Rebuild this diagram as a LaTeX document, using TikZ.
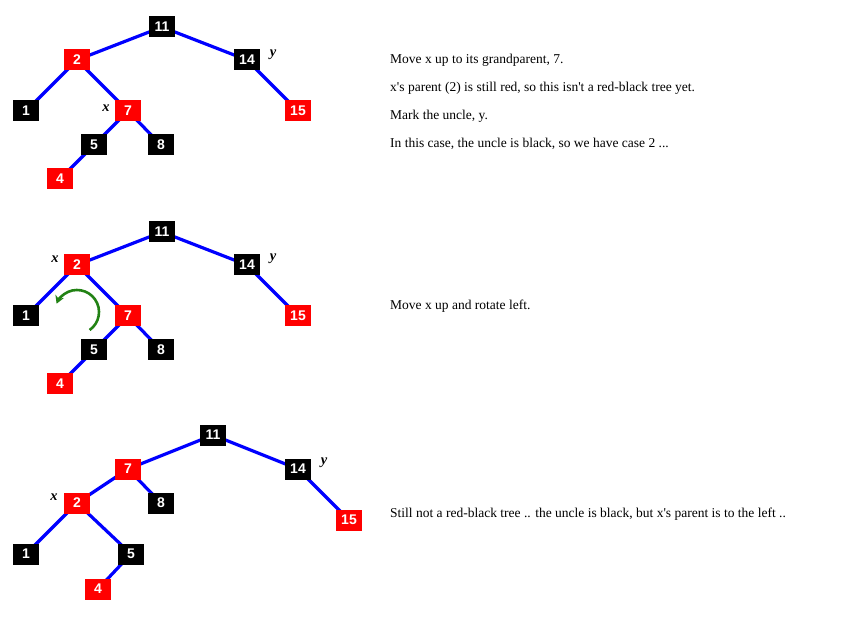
\documentclass[tikz,border=0pt]{standalone}
\usepackage{fontspec}
\setmainfont{Liberation Serif}
\newfontfamily\notefont{Liberation Serif}
\newfontfamily\nodefont{Liberation Sans}
\usetikzlibrary{arrows.meta}
\definecolor{arrowgreen}{RGB}{34,130,20}
\tikzset{
  rb/.style={rectangle, minimum width=26pt, minimum height=21pt, inner sep=0pt,
    text=white, font=\nodefont\fontsize{14pt}{14pt}\selectfont\bfseries},
  bk/.style={rb, fill=black},
  rd/.style={rb, fill=red},
  edge/.style={draw=blue, line width=3.2pt},
  varlabel/.style={font=\fontsize{14.5pt}{14pt}\selectfont\bfseries\itshape, inner sep=0pt},
  note/.style={anchor=base west, inner sep=0pt, font=\notefont\fontsize{13.5pt}{16pt}\selectfont},
  rot/.style={draw=arrowgreen, line width=2.6pt, -{Stealth[length=8pt,width=9pt]}}
}
\begin{document}
\begin{tikzpicture}[x=1pt,y=-1pt]
\useasboundingbox (0,0) rectangle (846,617);
% ---------- tree 1 ----------
\begin{scope}
\coordinate (A11) at (162,27);
\coordinate (A2) at (77,60);
\coordinate (A14) at (247,60);
\coordinate (A1) at (26,111);
\coordinate (A7) at (128,111);
\coordinate (A15) at (298,111);
\coordinate (A5) at (94,145);
\coordinate (A8) at (161,145);
\coordinate (A4) at (60,179);
\draw[edge] (A11)--(A2) (A11)--(A14) (A2)--(A1) (A2)--(A7) (A14)--(A15) (A7)--(A5) (A7)--(A8) (A5)--(A4);
\node[bk] (a11) at (A11) {11};
\node[rd] (a2) at (A2) {2};
\node[bk] (a14) at (A14) {14};
\node[bk] (a1) at (A1) {1};
\node[rd] (a7) at (A7) {7};
\node[rd] (a15) at (A15) {15};
\node[bk] (a5) at (A5) {5};
\node[bk] (a8) at (A8) {8};
\node[rd] (a4) at (A4) {4};
\node[varlabel] (ax) at (106,108) {x};
\node[varlabel] (ay) at (273,55) {y};
\end{scope}
% ---------- tree 2 ----------
\begin{scope}
\coordinate (B11) at (162,232);
\coordinate (B2) at (77,265);
\coordinate (B14) at (247,265);
\coordinate (B1) at (26,316);
\coordinate (B7) at (128,316);
\coordinate (B15) at (298,316);
\coordinate (B5) at (94,350);
\coordinate (B8) at (161,350);
\coordinate (B4) at (60,384);
\draw[edge] (B11)--(B2) (B11)--(B14) (B2)--(B1) (B2)--(B7) (B14)--(B15) (B7)--(B5) (B7)--(B8) (B5)--(B4);
\node[bk] (b11) at (B11) {11};
\node[rd] (b2) at (B2) {2};
\node[bk] (b14) at (B14) {14};
\node[bk] (b1) at (B1) {1};
\node[rd] (b7) at (B7) {7};
\node[rd] (b15) at (B15) {15};
\node[bk] (b5) at (B5) {5};
\node[bk] (b8) at (B8) {8};
\node[rd] (b4) at (B4) {4};
\node[varlabel] (bx) at (55,259) {x};
\node[varlabel] (by) at (273,259) {y};
\coordinate (rc) at (77,312);
\draw[rot] ([shift={(-55:22pt)}]rc) arc[start angle=-55, end angle=158, radius=22pt];
\end{scope}
% ---------- tree 3 ----------
\begin{scope}
\coordinate (C11) at (213,435);
\coordinate (C7) at (128,469);
\coordinate (C14) at (298,469);
\coordinate (C2) at (77,503);
\coordinate (C8) at (161,503);
\coordinate (C15) at (349,520);
\coordinate (C1) at (26,554);
\coordinate (C5) at (131,554);
\coordinate (C4) at (98,589);
\draw[edge] (C11)--(C7) (C11)--(C14) (C7)--(C2) (C7)--(C8) (C14)--(C15) (C2)--(C1) (C2)--(C5) (C5)--(C4);
\node[bk] (c11) at (C11) {11};
\node[rd] (c7) at (C7) {7};
\node[bk] (c14) at (C14) {14};
\node[rd] (c2) at (C2) {2};
\node[bk] (c8) at (C8) {8};
\node[rd] (c15) at (C15) {15};
\node[bk] (c1) at (C1) {1};
\node[bk] (c5) at (C5) {5};
\node[rd] (c4) at (C4) {4};
\node[varlabel] (cx) at (54,497) {x};
\node[varlabel] (cy) at (324,463) {y};
\end{scope}
% ---------- notes ----------
\node[note] (n1) at (390,64) {Move x up to its grandparent, 7.};
\node[note] (n2) at (390,92) {x's parent (2) is still red, so this isn't a red-black tree yet.};
\node[note] (n3) at (390,120) {Mark the uncle, y.};
\node[note] (n4) at (390,148) {In this case, the uncle is black, so we have case 2 ...};
\node[note] (n5) at (390,310) {Move x up and rotate left.};
\node[note] (n6) at (390,517) {Still not a red-black tree .. the uncle is black, but x's parent is to the left ..};
\end{tikzpicture}
\end{document}
